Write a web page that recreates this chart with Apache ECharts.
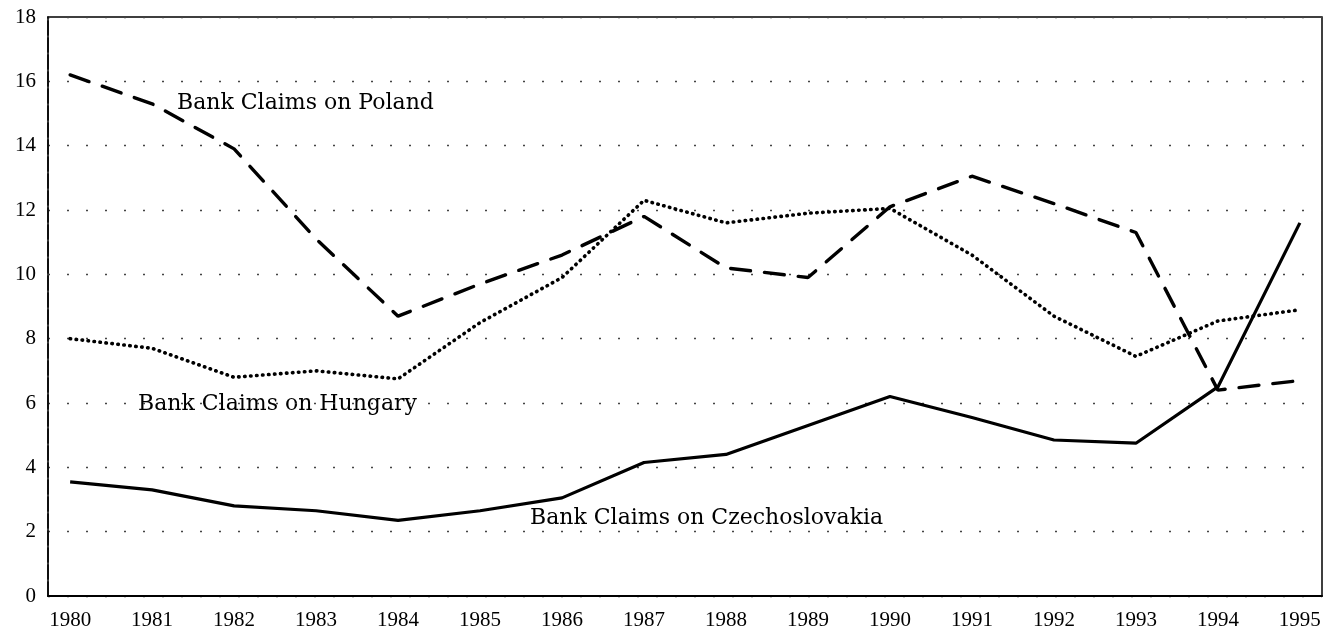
<!DOCTYPE html>
<html>
<head>
<meta charset="utf-8">
<script src="https://cdn.jsdelivr.net/npm/echarts@6/dist/echarts.min.js"></script>
<style>
  html, body { margin: 0; padding: 0; background: #fff; }
  #chart { width: 1329px; height: 636px; }
</style>
</head>
<body>
<div id="chart"></div>
<script>
// years on the x axis
var years = [1980, 1981, 1982, 1983, 1984, 1985, 1986, 1987, 1988, 1989, 1990, 1991, 1992, 1993, 1994, 1995];
// bank claims
var poland = [16.2, 15.3, 13.9, 11.1, 8.7, 9.7, 10.6, 11.8, 10.2, 9.9, 12.1, 13.05, 12.2, 11.3, 6.4, 6.7];
var hungary = [8.0, 7.7, 6.8, 7.0, 6.75, 8.5, 9.9, 12.3, 11.6, 11.9, 12.05, 10.6, 8.7, 7.45, 8.55, 8.9];
var czech = [3.55, 3.3, 2.8, 2.65, 2.35, 2.65, 3.05, 4.15, 4.4, 5.3, 6.2, 5.55, 4.85, 4.75, 6.5, 11.6];
var yTicks = [0, 2, 4, 6, 8, 10, 12, 14, 16, 18];

var serif = '"Liberation Serif", serif';
var labelFont = '22px "DejaVu Serif", serif';

function pairs(vals) {
  return vals.map(function (v, i) { return [years[i], v]; });
}

var chart = echarts.init(document.getElementById('chart'));

var option = {
  backgroundColor: '#fff',
  animation: false,
  grid: {
    left: 48, right: 7, top: 17, bottom: 40,
    show: true,
    borderColor: '#000',
    borderWidth: 1.5
  },
  xAxis: {
    type: 'value',
    min: 1979.73,
    max: 1995.27,
    axisLine: { show: true, lineStyle: { color: '#000', width: 2 } },
    axisTick: { show: false },
    splitLine: { show: false },
    axisLabel: {
      customValues: years,
      color: '#000',
      fontFamily: serif,
      fontSize: 21,
      margin: 14,
      formatter: function (v) { return String(Math.round(v)); }
    }
  },
  yAxis: {
    type: 'value',
    min: 0,
    max: 18,
    interval: 2,
    axisLine: { show: true, lineStyle: { color: '#000', width: 1.5, type: [14, 3] } },
    axisTick: { show: false },
    axisLabel: {
      color: '#000',
      fontFamily: serif,
      fontSize: 21,
      margin: 12,
      formatter: function (v) { return yTicks.indexOf(v) >= 0 ? String(v) : ''; }
    },
    splitLine: {
      show: true,
      lineStyle: { color: '#444', width: 1.3, type: [2, 17] }
    }
  },
  series: [
    {
      name: 'Bank Claims on Poland',
      type: 'line',
      data: pairs(poland),
      symbol: 'none',
      lineStyle: { color: '#000', width: 3.4, type: [20, 14], cap: 'round' }
    },
    {
      name: 'Bank Claims on Hungary',
      type: 'line',
      data: pairs(hungary),
      symbol: 'none',
      lineStyle: { color: '#000', width: 3.6, type: [0.5, 5.5], cap: 'round' }
    },
    {
      name: 'Bank Claims on Czechoslovakia',
      type: 'line',
      data: pairs(czech),
      symbol: 'none',
      lineStyle: { color: '#000', width: 3.2 }
    }
  ],
  graphic: [
    { type: 'text', left: 177, top: 92, style: { text: 'Bank Claims on Poland', fill: '#000', font: labelFont } },
    { type: 'text', left: 138, top: 393, style: { text: 'Bank Claims on Hungary', fill: '#000', font: labelFont } },
    { type: 'text', left: 530, top: 507, style: { text: 'Bank Claims on Czechoslovakia', fill: '#000', font: labelFont } }
  ]
};

chart.setOption(option);
</script>
</body>
</html>
